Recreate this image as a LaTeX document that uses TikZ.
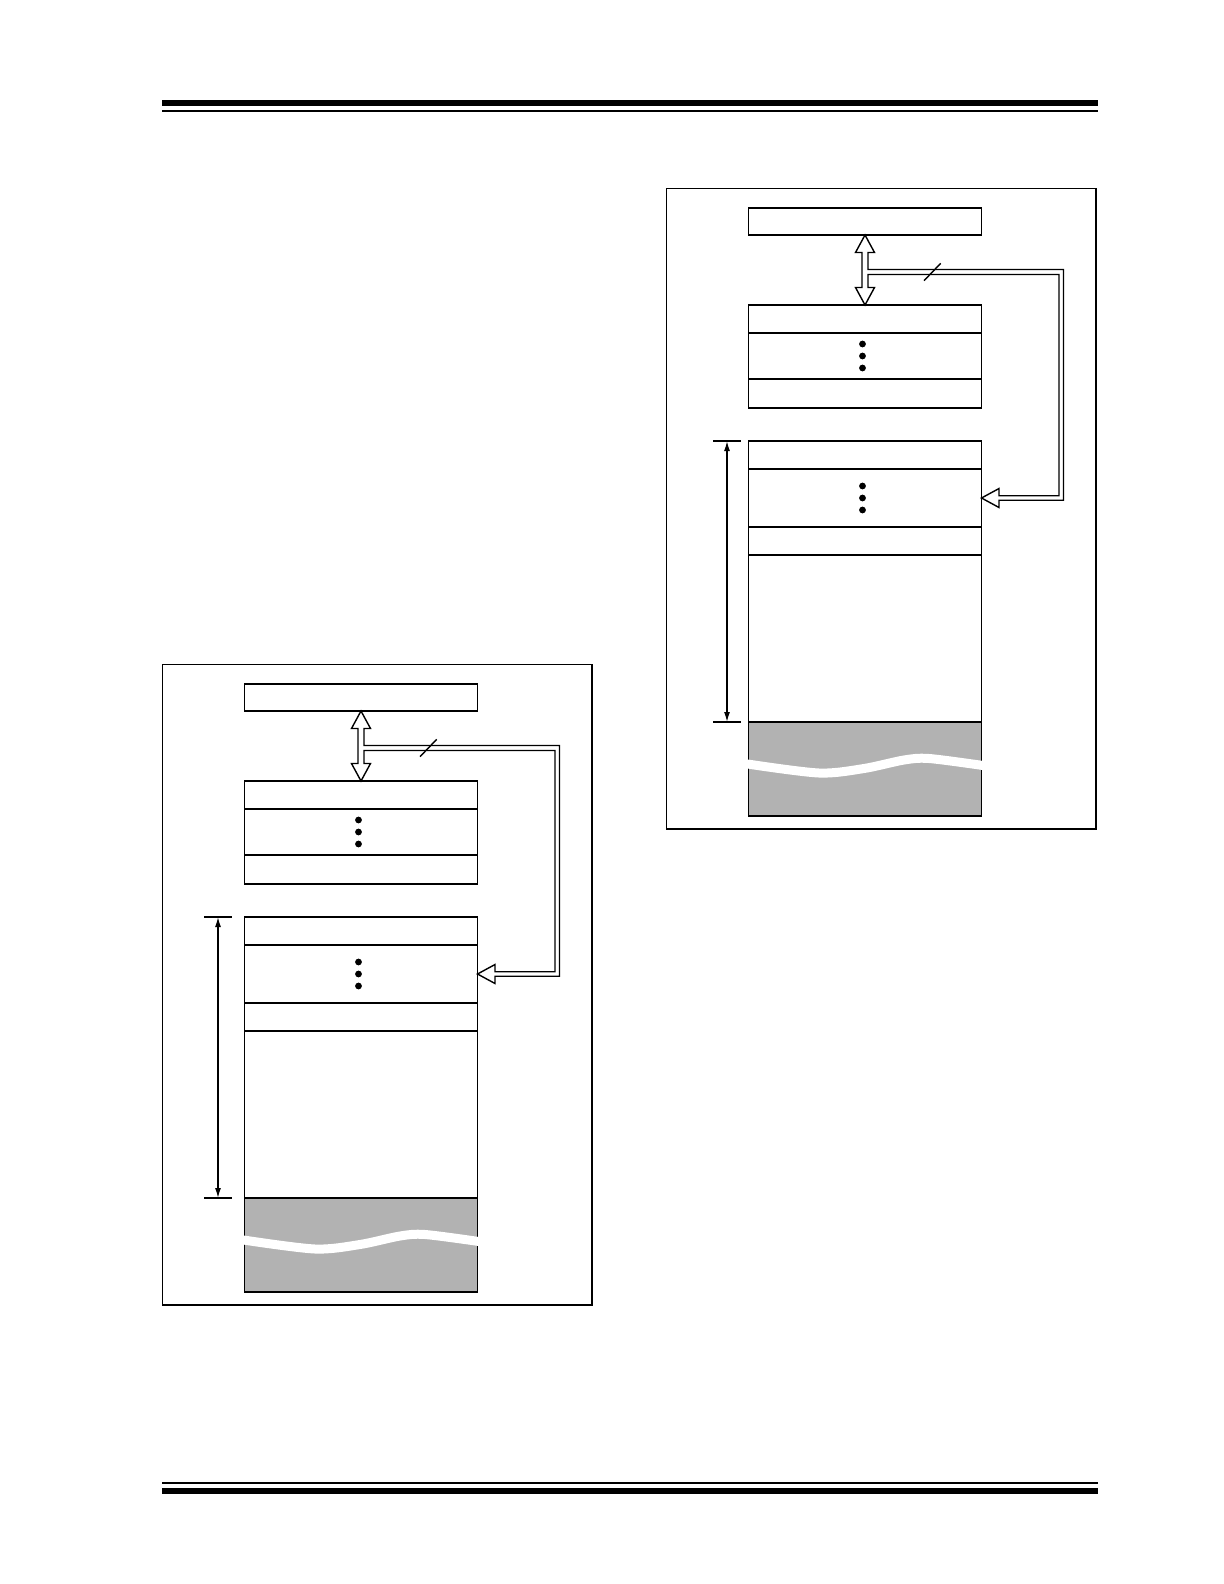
\documentclass[tikz,border=0pt]{standalone}
\usepackage{tikz}
\usetikzlibrary{arrows.meta,calc}

\begin{document}
\begin{tikzpicture}[x=0.5pt,y=-0.5pt,line width=0.7pt]
\tikzstyle{cell} = [rectangle, draw, fill=white, minimum width=116.5pt, inner sep=0pt, outer sep=0pt, anchor=north]
\tikzstyle{hollow} = [draw, fill=white, line join=miter]
\tikzstyle{dim} = [<->, >={Latex[length=5pt,width=3pt]}]
\useasboundingbox (0,0) rectangle (1224,1584);
% page rules
\draw[line width=3pt] (162,103) -- (1098,103);
\draw[line width=1pt] (162,111) -- (1098,111);
\draw[line width=1pt] (162,1483) -- (1098,1483);
\draw[line width=3pt] (162,1490.5) -- (1098,1490.5);
\foreach \p/\dx/\dy/\sx in {L/0/0/-5, R/504/-476/0}{
\begin{scope}[shift={(\dx,\dy)}]
\draw (162.7,664.5) rectangle (592,1305);
% top block
\node[cell, minimum height=13.5pt] (\p top) at (361,684) {};
% middle block
\node[cell, minimum height=14pt] (\p m1) at (361,781) {};
\node[cell, minimum height=23pt] (\p m2) at (\p m1.south) {};
\node[cell, minimum height=14.5pt] (\p m3) at (\p m2.south) {};
% lower block
\node[cell, minimum height=14pt] (\p s1) at (361,917) {};
\node[cell, minimum height=29pt] (\p s2) at (\p s1.south) {};
\node[cell, minimum height=14pt] (\p s3) at (\p s2.south) {};
\node[cell, minimum height=83.5pt] (\p s4) at (\p s3.south) {};
\node[cell, minimum height=47pt, fill=black!30] (\p s5) at (\p s4.south) {};
\draw[white, line width=4.5pt] plot[smooth] coordinates {(243.5,1240) (315,1249) (360,1244.5) (400,1236) (425,1234.5) (479,1241.5)};
\foreach \d in {-12,0,12}{
  \fill ($(\p m2.center)+(-2.5,\d)$) circle (1.7pt);
  \fill ($(\p s2.center)+(-2.5,\d)$) circle (1.7pt);
}
% bus
\draw[hollow] (\p top.south) -- ++(9.5,17.5) -- ++(-6.5,0) -- ++(0,17) -| (559.5,976.25)
  -- ($(\p s2.east)+(17.5,2.25)$) -- ++(0,7.25) -- (\p s2.east) -- ++(17.5,-9.5) -- ++(0,7.25)
  -| (555,750.5) -- ($(\p top.south)+(3,39.5)$) -- ($(\p m1.north)+(3,-17.5)$) -- ++(6.5,0)
  -- (\p m1.north) -- ++(-9.5,-17.5) -- ++(6.5,0) -- ($(\p top.south)+(-3,17.5)$) -- ++(-6.5,0) -- cycle;
\draw (420,756.7) -- (436.7,739.3);
% size
\draw ($(\p s1.north west)+(-8+\sx,0)$) -- ++(-28,0);
\draw ($(\p s5.north west)+(-8+\sx,0)$) -- ++(-28,0);
\draw[dim] ($(\p s1.north west)+(-21.5+\sx,0)$) -- ($(\p s5.north west)+(-21.5+\sx,0)$);
\end{scope}}
\end{tikzpicture}
\end{document}
